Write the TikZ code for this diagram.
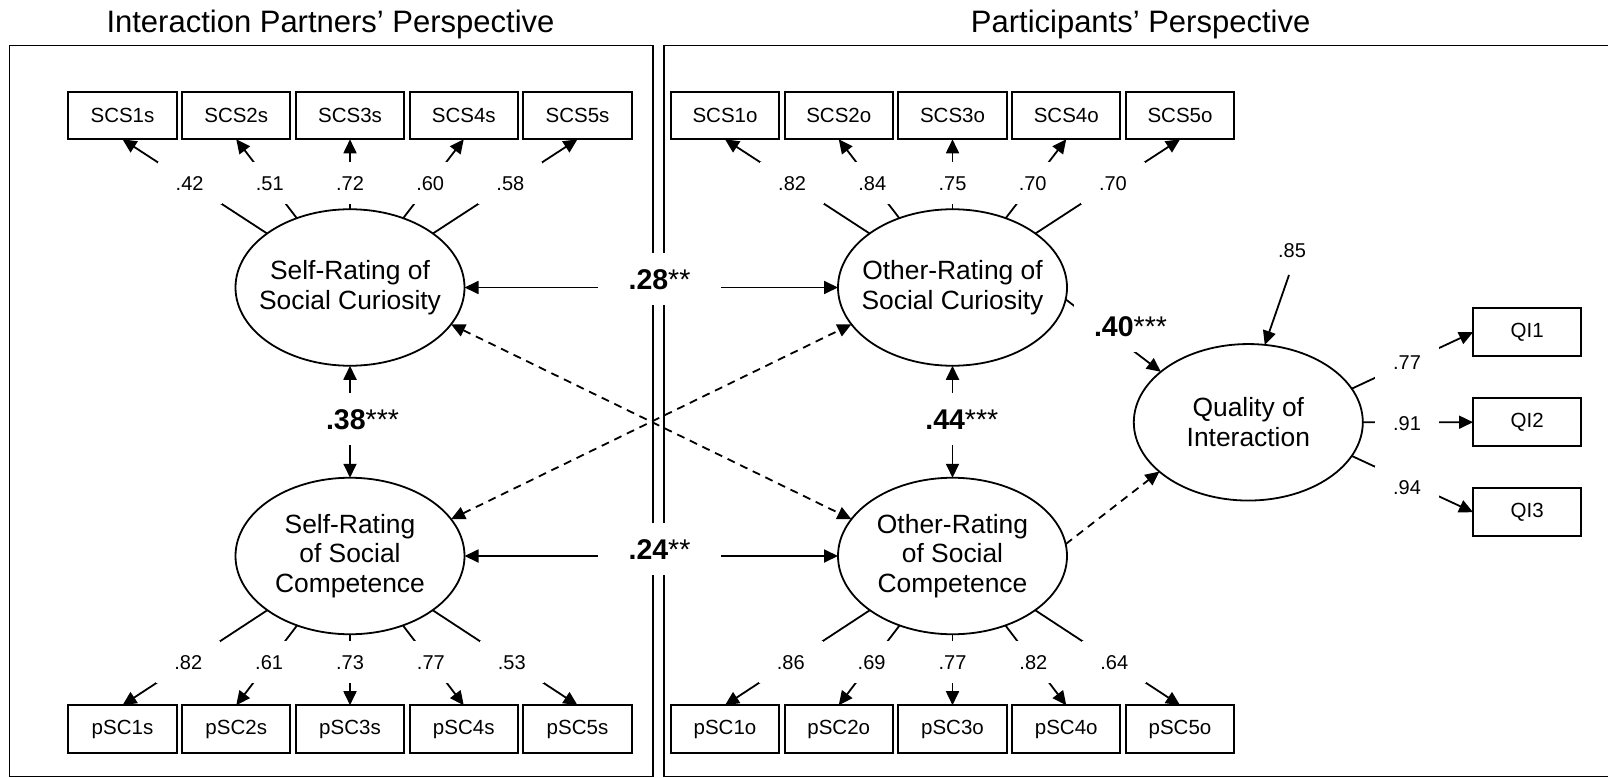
\documentclass[tikz,border=0pt]{standalone}
\usepackage{fontspec}
\setmainfont{Liberation Sans}
\usetikzlibrary{arrows.meta,calc,shapes.geometric}
\begin{document}
\begin{tikzpicture}[x=1pt,y=-1pt,
  every node/.style={inner sep=0pt, outer sep=0pt},
  obs/.style={draw, line width=2pt, minimum width=108.3pt, minimum height=47.6pt, font=\fontsize{20.5}{24}\selectfont},
  lat/.style={draw, ellipse, line width=1.8pt, minimum width=229pt, minimum height=156.5pt},
  lattxt/.style={align=center, font=\fontsize{26.4}{29.5}\selectfont},
  ttl/.style={anchor=base, font=\fontsize{31}{36}\selectfont},
  ld/.style={fill=white, font=\fontsize{20}{22}\selectfont, text height=14.3pt, text depth=0pt, inner xsep=18pt, inner ysep=14pt},
  bl/.style={fill=white, font=\fontsize{28.5}{30}\selectfont, text height=20.4pt, text depth=0pt, inner xsep=20pt, inner ysep=16pt},
  tip/.style={Triangle[length=14pt,width=13pt]},
  conn/.style={line width=1.8pt, -{Triangle[length=14pt,width=13pt]}},
  cov/.style={line width=1.8pt, {Triangle[length=14pt,width=13pt]}-{Triangle[length=14pt,width=13pt]}},
  dsh/.style={dash pattern=on 8pt off 6pt},
  frm/.style={line width=1.8pt}
]
\useasboundingbox (0,0) rectangle (1608,778);

% frames and titles
\draw[frm] (9.5,45.5) rectangle (653.3,776.5);
\draw[frm] (1608,45.5) -- (664.3,45.5) -- (664.3,776.5) -- (1608,776.5);
\node[ttl] (t1) at (330.5,33) {Interaction Partners’ Perspective};
\node[ttl] (t2) at (1140.6,33) {Participants’ Perspective};

% latent variables
\node[lat] (e1) at (350,287.5) {};
\node[lat] (e2) at (350,556) {};
\node[lat] (e3) at (952.5,287.5) {};
\node[lat] (e4) at (952.5,556) {};
\node[lat] (q) at (1248.3,422.3) {};

% observed indicators
\foreach \i/\dx in {1/-227.5,2/-113.75,3/0,4/113.75,5/227.5}{
  \node[obs] (s\i) at (350+\dx,115.5) {SCS\i s};
  \node[obs] (o\i) at (952.5+\dx,115.5) {SCS\i o};
  \node[obs] (ps\i) at (350+\dx,729) {pSC\i s};
  \node[obs] (po\i) at (952.5+\dx,729) {pSC\i o};
}
\node[obs] (qi1) at (1527.2,332.2) {QI1};
\node[obs] (qi2) at (1527.2,422.2) {QI2};
\node[obs] (qi3) at (1527.2,512.2) {QI3};

% loadings
\foreach \i in {1,...,5}{
  \draw[conn] (e1) -- (s\i.south);
  \draw[conn] (e3) -- (o\i.south);
  \draw[conn] (e2) -- (ps\i.north);
  \draw[conn] (e4) -- (po\i.north);
}
\draw[conn] (q.18) -- (qi1.west);
\draw[conn] (q) -- (qi2.west);
\draw[conn] (q.-18) -- (qi3.west);

% structural / covariances
\draw[cov] (e1) -- (e2);
\draw[cov] (e3) -- (e4);
\draw[cov] (e1) -- (e3);
\draw[cov] (e2) -- (e4);
\draw[cov,dsh] (e1.-20) -- (e4.160);
\draw[cov,dsh] (e2.20) -- (e3.200);
\draw[conn] (e3.-6) -- (q.150);
\draw[conn,dsh] (e4.6) -- (q.209);
\coordinate (r85) at (1289,275);
\draw[conn] (r85) -- (q.78);

% loading labels
\foreach \i/\v in {1/.42,2/.51,3/.72,4/.60,5/.58}{
  \node[ld] (ls\i) at ($(e1.center)!0.705!(s\i.south)$) {\v};}
\foreach \i/\v in {1/.82,2/.84,3/.75,4/.70,5/.70}{
  \node[ld] (lo\i) at ($(e3.center)!0.705!(o\i.south)$) {\v};}
\foreach \i/\v in {1/.82,2/.61,3/.73,4/.77,5/.53}{
  \node[ld] (lps\i) at ($(e2.center)!0.711!(ps\i.north)$) {\v};}
\foreach \i/\v in {1/.86,2/.69,3/.77,4/.82,5/.64}{
  \node[ld] (lpo\i) at ($(e4.center)!0.711!(po\i.north)$) {\v};}
\node[ld] (lq1) at (1407,362) {.77};
\node[ld] (lq2) at (1407,423) {.91};
\node[ld] (lq3) at (1407,487) {.94};
\node[ld] (lr) at (1292,250.5) {.85};

% path labels
\node[bl] (l38) at (362.5,419) {\textbf{.38}***};
\node[bl] (l44) at (961.8,419) {\textbf{.44}***};
\node[bl,inner xsep=30.5pt] (l28) at (659.5,279) {\textbf{.28}**};
\node[bl,inner xsep=30.5pt] (l24) at (659.5,549) {\textbf{.24}**};
\node[bl] (l40) at (1130.5,326) {\textbf{.40}***};

% latent texts
\node[lattxt] at (e1) {Self-Rating of\\Social Curiosity};
\node[lattxt] at (e2) {Self-Rating\\of Social\\Competence};
\node[lattxt] at (e3) {Other-Rating of\\Social Curiosity};
\node[lattxt] at (e4) {Other-Rating\\of Social\\Competence};
\node[lattxt] at (q) {Quality of\\Interaction};
\end{tikzpicture}
\end{document}
